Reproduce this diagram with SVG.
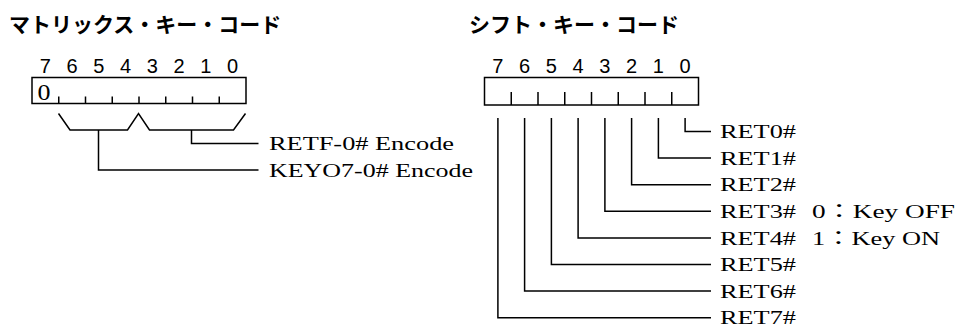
<svg xmlns="http://www.w3.org/2000/svg" width="957" height="327" viewBox="0 0 957 327">
  <style>
    .title { font-family: "Noto Sans CJK JP", "Noto Sans", sans-serif; font-weight: bold; font-size: 21px; fill: #000; }
    .bit { font-family: "Liberation Sans", Arial, sans-serif; font-size: 20px; fill: #000; text-anchor: middle; }
    .lbl { font-family: "Liberation Serif", "Noto Sans CJK JP", serif; font-size: 19px; fill: #000; }
    .box { fill: #fff; stroke: #000; stroke-width: 1.5; }
    .ln { fill: none; stroke: #000; stroke-width: 1.5; }
  </style>
  <rect width="957" height="327" fill="#fff"/>

  <!-- Matrix key code register -->
  <g id="matrix-key-code">
    <text class="title" x="9" y="32">マトリックス・キー・コード</text>
    <g>
      <text class="bit" x="45.4" y="72.5">7</text>
      <text class="bit" x="72.1" y="72.5">6</text>
      <text class="bit" x="98.9" y="72.5">5</text>
      <text class="bit" x="125.6" y="72.5">4</text>
      <text class="bit" x="152.4" y="72.5">3</text>
      <text class="bit" x="179.1" y="72.5">2</text>
      <text class="bit" x="205.9" y="72.5">1</text>
      <text class="bit" x="232.6" y="72.5">0</text>
    </g>
    <rect class="box" x="32" y="77.5" width="214" height="26"/>
    <path class="ln" d="M58.75,96.5V103.5M85.5,96.5V103.5M112.25,96.5V103.5M139,96.5V103.5M165.75,96.5V103.5M192.5,96.5V103.5M219.25,96.5V103.5"/>
    <text class="lbl" x="37.5" y="100" style="font-size:23px" textLength="13" lengthAdjust="spacingAndGlyphs">0</text>
  </g>

  <!-- Shift key code register -->
  <g id="shift-key-code">
    <text class="title" x="469" y="32">シフト・キー・コード</text>
    <g>
      <text class="bit" x="497.9" y="72.5">7</text>
      <text class="bit" x="524.6" y="72.5">6</text>
      <text class="bit" x="551.4" y="72.5">5</text>
      <text class="bit" x="578.1" y="72.5">4</text>
      <text class="bit" x="604.9" y="72.5">3</text>
      <text class="bit" x="631.6" y="72.5">2</text>
      <text class="bit" x="658.4" y="72.5">1</text>
      <text class="bit" x="685.1" y="72.5">0</text>
    </g>
    <rect class="box" x="484.5" y="77.5" width="214" height="27.5"/>
    <path class="ln" d="M511.25,92V105M538,92V105M564.75,92V105M591.5,92V105M618.25,92V105M645,92V105M671.75,92V105"/>
  </g>

  <!-- Connectors -->
  <g id="connectors">
    <!-- bracket grouping of the matrix code fields -->
    <path class="ln" d="M58.5,113.5L70,130H127.5L138.5,113.5L149.5,130H233.5L245.5,113.5"/>
    <path class="ln" d="M191.5,130V143.5H258.5"/>
    <path class="ln" d="M98.5,130V170H258.5"/>
    <!-- one lead per shift bit -->
    <path class="ln" d="M685.1,118V131.5H711"/>
    <path class="ln" d="M658.4,118V158.1H711"/>
    <path class="ln" d="M631.6,118V184.7H711"/>
    <path class="ln" d="M604.9,118V211.3H711"/>
    <path class="ln" d="M578.1,118V237.9H711"/>
    <path class="ln" d="M551.4,118V264.5H711"/>
    <path class="ln" d="M524.6,118V291.1H711"/>
    <path class="ln" d="M497.9,118V317.7H711"/>
  </g>

  <!-- Labels -->
  <g id="labels">
    <text class="lbl" x="269" y="150" textLength="185" lengthAdjust="spacingAndGlyphs">RETF-0# Encode</text>
    <text class="lbl" x="269" y="176.5" textLength="204" lengthAdjust="spacingAndGlyphs">KEYO7-0# Encode</text>
    <text class="lbl" x="720" y="138.2" textLength="76" lengthAdjust="spacingAndGlyphs">RET0#</text>
    <text class="lbl" x="720" y="164.8" textLength="76" lengthAdjust="spacingAndGlyphs">RET1#</text>
    <text class="lbl" x="720" y="191.4" textLength="76" lengthAdjust="spacingAndGlyphs">RET2#</text>
    <text class="lbl" x="720" y="218" textLength="76" lengthAdjust="spacingAndGlyphs">RET3#</text>
    <text class="lbl" x="812" y="218" textLength="143" lengthAdjust="spacingAndGlyphs">0：Key OFF</text>
    <text class="lbl" x="720" y="244.6" textLength="76" lengthAdjust="spacingAndGlyphs">RET4#</text>
    <text class="lbl" x="812" y="244.6" textLength="128" lengthAdjust="spacingAndGlyphs">1：Key ON</text>
    <text class="lbl" x="720" y="271.2" textLength="76" lengthAdjust="spacingAndGlyphs">RET5#</text>
    <text class="lbl" x="720" y="297.8" textLength="76" lengthAdjust="spacingAndGlyphs">RET6#</text>
    <text class="lbl" x="720" y="324.4" textLength="76" lengthAdjust="spacingAndGlyphs">RET7#</text>
  </g>
</svg>
